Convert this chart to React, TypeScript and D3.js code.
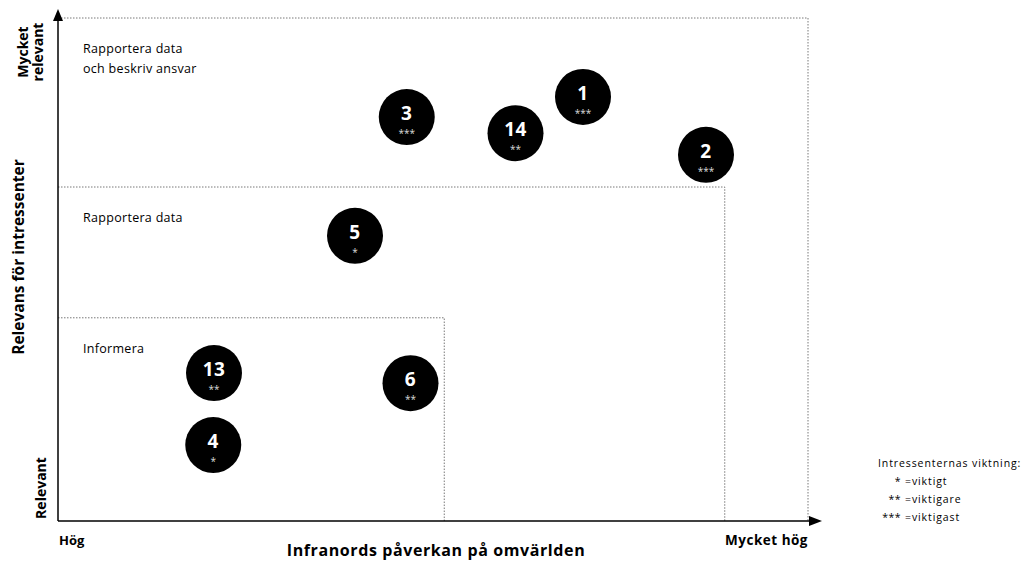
import React from "react";
import * as d3 from "d3";

const ids = ["3", "14", "1", "2", "5", "13", "6", "4"];
const impact = [46.5, 61, 70, 86.4, 39.6, 20.8, 47, 20.7];
const relevance = [80.3, 77.1, 84.3, 72.8, 56.7, 29.4, 27.4, 15.1];
const weights = ["***", "**", "***", "***", "*", "**", "**", "*"];

const zoneNames = [["Rapportera data", "och beskriv ansvar"], ["Rapportera data"], ["Informera"]];
const zoneX = [100, 88.9, 51.5];
const zoneY = [100, 66.4, 40.4];

const legendTitle = "Intressenternas viktning:";
const legendStars = ["*", "**", "***"];
const legendText = ["=viktigt", "=viktigare", "=viktigast"];

const W = 1024, H = 562;
const x = d3.scaleLinear().domain([0, 100]).range([58, 808]);
const y = d3.scaleLinear().domain([0, 100]).range([521, 18]);
const font = "'Open Sans', sans-serif";

export default function App() {
  return (
    <svg width={W} height={H} style={{ position: "absolute", left: 0, top: 0, background: "#fff" }} fontFamily={font}>
      {zoneX.map((zx, i) => (
        <path key={i} d={`M${x(0)},${y(zoneY[i])} H${x(zx)} V${y(0)}`} fill="none" stroke="#555" strokeWidth={0.8} strokeDasharray="1.5,1.5" />
      ))}
      {zoneNames.map((lines, i) =>
        lines.map((t, j) => (
          <text key={i + "-" + j} x={83} y={y(zoneY[i]) + 35 + j * 20} fontSize={12.5} fontWeight={500} letterSpacing={0.3} fill="#000">{t}</text>
        ))
      )}
      {/* axes */}
      <line x1={x(0)} y1={y(0)} x2={x(0)} y2={20} stroke="#000" strokeWidth={1.5} />
      <path d={`M${x(0)},9 L${x(0) - 5},21 L${x(0) + 5},21 Z`} fill="#000" />
      <line x1={x(0)} y1={y(0)} x2={812} y2={y(0)} stroke="#000" strokeWidth={1.5} />
      <path d={`M822,${y(0)} L809,${y(0) - 5} L809,${y(0) + 5} Z`} fill="#000" />
      {ids.map((id, i) => (
        <g key={id} transform={`translate(${x(impact[i])},${y(relevance[i])})`}>
          <circle r={28} fill="#000" />
          <text y={3} textAnchor="middle" fill="#fff" fontSize={19} fontWeight="bold" letterSpacing={0.5}>{id}</text>
          <text y={20} textAnchor="middle" fill="#ddd" fontSize={10}>{weights[i]}</text>
        </g>
      ))}
      {/* axis labels */}
      <text transform="translate(28,52) rotate(-90)" textAnchor="middle" fontSize={14} fontWeight="bold">Mycket</text>
      <text transform="translate(43,52) rotate(-90)" textAnchor="middle" fontSize={14} fontWeight="bold">relevant</text>
      <text transform="translate(46,488) rotate(-90)" textAnchor="middle" fontSize={14} fontWeight="bold">Relevant</text>
      <text transform="translate(24,257) rotate(-90)" textAnchor="middle" fontSize={15.5} fontWeight="bold">Relevans för intressenter</text>
      <text x={59} y={545} fontSize={13} fontWeight="bold">Hög</text>
      <text x={808} y={545} textAnchor="end" fontSize={13.5} fontWeight="bold" letterSpacing={0.5}>Mycket hög</text>
      <text x={436} y={556} textAnchor="middle" fontSize={16} fontWeight="bold" letterSpacing={0.6}>Infranords påverkan på omvärlden</text>
      {/* legend */}
      <text x={878} y={467} fontSize={10.5} letterSpacing={0.9}>{legendTitle}</text>
      {legendStars.map((s, i) => (
        <g key={s}>
          <text x={901} y={485 + i * 18} textAnchor="end" fontSize={10.5} letterSpacing={0.5}>{s}</text>
          <text x={905} y={485 + i * 18} fontSize={10.5} letterSpacing={0.9}>{legendText[i]}</text>
        </g>
      ))}
    </svg>
  );
}
